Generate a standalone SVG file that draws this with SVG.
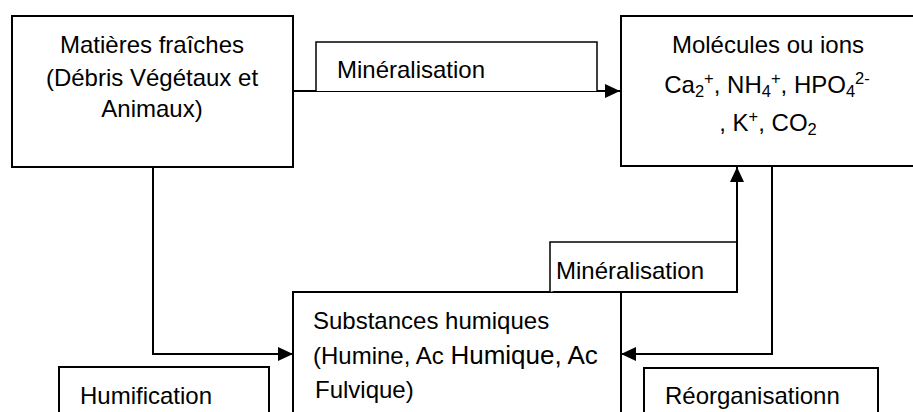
<svg xmlns="http://www.w3.org/2000/svg" width="913" height="412" viewBox="0 0 913 412">
<style>
.box{fill:#fff;stroke:#000;stroke-width:2}
.lbl{fill:#fff;stroke:#000;stroke-width:1.5}
.con{fill:none;stroke:#000;stroke-width:2}
text{font-family:"Liberation Sans",Arial,sans-serif;font-size:24px;fill:#000}
.c{text-anchor:middle}
.s{font-size:16.5px}
</style>
<defs>
<marker id="arr" markerUnits="userSpaceOnUse" markerWidth="16" markerHeight="14" refX="15" refY="7" orient="auto" viewBox="0 0 16 14">
<path d="M0,0 L15,7 L0,14 z" fill="#000"/>
</marker>
</defs>
<rect width="913" height="412" fill="#fff"/>
<g id="n-matieres">
<rect class="box" x="12" y="16" width="281" height="151"/>
<text class="c" x="152" y="53">Matières fraîches</text>
<text class="c" x="152" y="85.5">(Débris Végétaux et</text>
<text class="c" x="152" y="117">Animaux)</text>
</g>
<g id="n-molecules">
<rect class="box" x="621" y="16" width="300" height="150"/>
<text class="c" x="768" y="53">Molécules ou ions</text>
<text class="c" x="767" y="93">Ca<tspan class="s" baseline-shift="-4">2</tspan><tspan class="s" baseline-shift="9">+</tspan>, NH<tspan class="s" baseline-shift="-4">4</tspan><tspan class="s" baseline-shift="9">+</tspan>, HPO<tspan class="s" baseline-shift="-4">4</tspan><tspan class="s" baseline-shift="9">2-</tspan></text>
<text class="c" x="768" y="131">, K<tspan class="s" baseline-shift="9">+</tspan>, CO<tspan class="s" baseline-shift="-4">2</tspan></text>
</g>
<g id="n-substances">
<rect class="box" x="293" y="292" width="328" height="140"/>
<text x="313" y="329">Substances humiques</text>
<text x="313" y="364">(Humine, Ac <tspan font-size="26">Humique, Ac</tspan></text>
<text x="315" y="398" font-size="26">Fulvique)</text>
</g>
<g id="n-humification">
<rect class="box" x="59" y="367" width="210" height="60"/>
<text x="80" y="404">Humification</text>
</g>
<g id="n-reorganisation">
<rect class="box" x="644" y="368" width="234" height="60"/>
<text x="665" y="404" font-size="23">Réorganisationn</text>
</g>
<g id="connectors">
<path class="con" d="M293,91 H620" marker-end="url(#arr)"/>
<path class="con" d="M153,167 V354 H293" marker-end="url(#arr)"/>
<path class="con" d="M772,166 V354 H621" marker-end="url(#arr)"/>
<path class="con" d="M621,292 H737 V167" marker-end="url(#arr)"/>
</g>
<g id="label-mineralisation-top">
<path class="lbl" d="M316,91 V42 H597 V91"/>
<text x="337" y="78">Minéralisation</text>
</g>
<g id="label-mineralisation-mid">
<path class="lbl" d="M550,292 V242 H737"/>
<text x="556" y="279">Minéralisation</text>
</g>
</svg>
